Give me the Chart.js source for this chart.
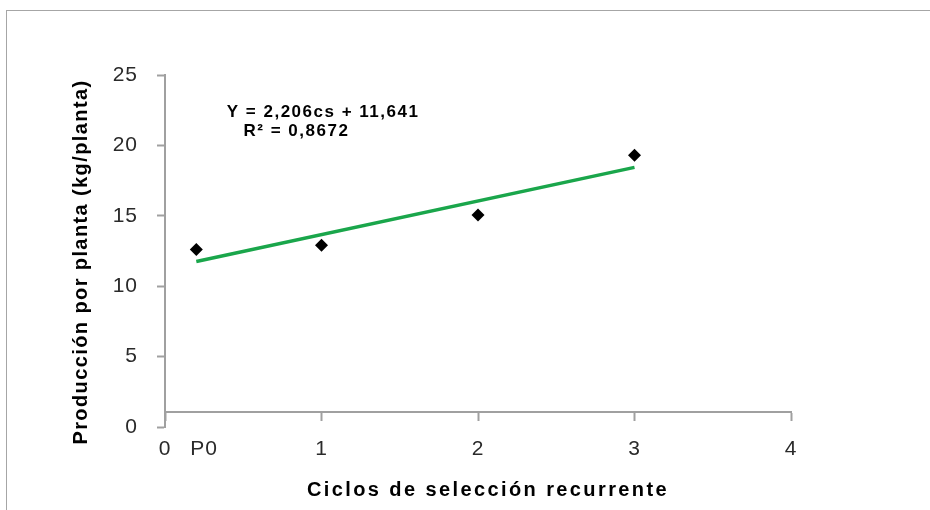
<!DOCTYPE html>
<html>
<head>
<meta charset="utf-8">
<script src="https://cdn.jsdelivr.net/npm/chart.js@4"></script>
<style>
html,body{margin:0;padding:0;background:#fff;}
#wrap{position:relative;width:930px;height:510px;overflow:hidden;}
#frame{position:absolute;left:6px;top:10px;right:-2px;bottom:-2px;border-top:1px solid #a6a6a6;border-left:1px solid #a6a6a6;}
canvas{position:absolute;left:0;top:0;}
</style>
</head>
<body>
<div id="wrap"><div id="frame"></div><canvas id="chart" width="930" height="510"></canvas></div>
<script>
// observed yields per cycle (P0 plotted a bit right of 0)
const cycleX = [0.2, 1, 2, 3];
const yieldKg = [12.6, 12.9, 15.05, 19.3];
// fitted trend as drawn
const trendX = [0.2, 3];
const trendY = [11.75, 18.44];
const xTicks = [0, 0.25, 1, 2, 3, 4];
const xTickLabels = ['0', 'P0', '1', '2', '3', '4'];
const yTicks = [0, 5, 10, 15, 20, 25];
const equationLines = ['Y = 2,206cs + 11,641', 'R² = 0,8672'];
const yTitle = 'Producción por planta (kg/planta)';
const xTitle = 'Ciclos de selección recurrente';

const AXIS_GREY = '#a0a0a0';
const TICK_FONT = {family: '"Liberation Sans", Arial, sans-serif', size: 21};

const textPlugin = {
  id: 'texts',
  beforeDraw(chart){ chart.ctx.letterSpacing = '1px'; },
  afterDraw(chart){
    const ctx = chart.ctx;
    const {x, y} = chart.scales;
    ctx.save();
    ctx.fillStyle = '#000';
    ctx.textBaseline = 'middle';
    // trendline label
    ctx.font = 'bold 17px "Liberation Sans", Arial, sans-serif';
    ctx.letterSpacing = '1.5px';
    ctx.textAlign = 'center';
    ctx.fillText(equationLines[0], x.getPixelForValue(1.01), y.getPixelForValue(22.37));
    ctx.fillText(equationLines[1], x.getPixelForValue(0.84), y.getPixelForValue(21.0));
    // axis titles
    ctx.font = 'bold 20px "Liberation Sans", Arial, sans-serif';
    ctx.letterSpacing = '2.4px';
    ctx.fillText(xTitle, 488, 490);
    ctx.letterSpacing = '1.4px';
    ctx.translate(81, 262);
    ctx.rotate(-Math.PI/2);
    ctx.fillText(yTitle, 0, 0);
    ctx.restore();
  }
};

new Chart(document.getElementById('chart'), {
  type: 'scatter',
  data: {
    datasets: [
      {
        data: cycleX.map((v,i)=>({x: v, y: yieldKg[i]})),
        pointStyle: 'rectRot',
        pointRadius: 6.5,
        backgroundColor: '#000',
        borderColor: '#000',
        borderWidth: 0
      },
      {
        data: trendX.map((v,i)=>({x: v, y: trendY[i]})),
        showLine: true,
        borderColor: '#1aa64b',
        borderWidth: 3.5,
        pointRadius: 0
      }
    ]
  },
  options: {
    responsive: false,
    animation: false,
    layout: {padding: {left: 0, top: 75, right: 139, bottom: 83}},
    plugins: {legend: {display: false}, tooltip: {enabled: false}},
    scales: {
      x: {
        type: 'linear', min: 0, max: 4,
        position: {y: 1.07},
        afterBuildTicks(s){ s.ticks = xTicks.map(v=>({value: v})); },
        afterFit(s){ s.paddingLeft = 0; s.paddingRight = 0; },
        ticks: {
          autoSkip: false, maxRotation: 0, padding: 17, color: '#2a2a2a', font: TICK_FONT,
          callback: (v, i) => xTickLabels[i]
        },
        grid: {
          drawOnChartArea: false, tickLength: 8, tickWidth: 2,
          tickColor: c => (c.tick && c.tick.value === 0.25) ? 'rgba(0,0,0,0)' : AXIS_GREY
        },
        border: {color: AXIS_GREY, width: 2}
      },
      y: {
        min: 0, max: 25,
        afterBuildTicks(s){ s.ticks = yTicks.map(v=>({value: v})); },
        afterFit(s){ s.width = 165; s.paddingTop = 0; s.paddingBottom = 0; },
        ticks: {padding: 19, color: '#2a2a2a', font: TICK_FONT},
        grid: {drawOnChartArea: false, tickLength: 8, tickWidth: 2, tickColor: AXIS_GREY},
        border: {color: AXIS_GREY, width: 2}
      }
    }
  },
  plugins: [textPlugin]
});
</script>
</body>
</html>
